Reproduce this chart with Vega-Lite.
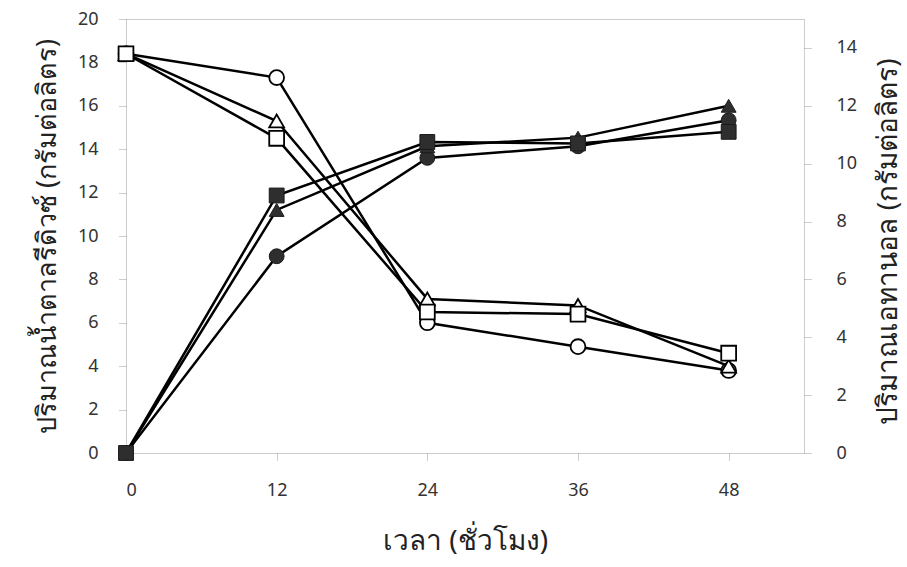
{
  "$schema": "https://vega.github.io/schema/vega-lite/v6.json",
  "width": 678,
  "height": 434,
  "autosize": {"type": "none"},
  "padding": {"left": 126, "top": 19, "right": 103, "bottom": 114},
  "background": "white",
  "config": {
    "view": {"stroke": "#9a9a9a", "strokeDash": [1, 1], "strokeWidth": 1},
    "axis": {
      "domain": false, "grid": false, "labelFont": "Noto Sans", "labelFontSize": 18,
      "labelColor": "#333333", "tickColor": "#9a9a9a", "tickDash": [1, 1], "tickSize": 8,
      "titleFont": "Noto Sans", "titleFontSize": 27, "titleColor": "#222222", "titleFontWeight": "normal"
    }
  },
  "data": {
    "values": [
      {"t": 0, "trt": "A", "sugar": 18.4, "ethanol": 0},
      {"t": 12, "trt": "A", "sugar": 17.3, "ethanol": 6.8},
      {"t": 24, "trt": "A", "sugar": 6.0, "ethanol": 10.2},
      {"t": 36, "trt": "A", "sugar": 4.9, "ethanol": 10.6},
      {"t": 48, "trt": "A", "sugar": 3.8, "ethanol": 11.5},
      {"t": 0, "trt": "B", "sugar": 18.4, "ethanol": 0},
      {"t": 12, "trt": "B", "sugar": 15.3, "ethanol": 8.4},
      {"t": 24, "trt": "B", "sugar": 7.1, "ethanol": 10.6},
      {"t": 36, "trt": "B", "sugar": 6.8, "ethanol": 10.9},
      {"t": 48, "trt": "B", "sugar": 4.0, "ethanol": 12.0},
      {"t": 0, "trt": "C", "sugar": 18.4, "ethanol": 0},
      {"t": 12, "trt": "C", "sugar": 14.5, "ethanol": 8.9},
      {"t": 24, "trt": "C", "sugar": 6.5, "ethanol": 10.75},
      {"t": 36, "trt": "C", "sugar": 6.4, "ethanol": 10.7},
      {"t": 48, "trt": "C", "sugar": 4.6, "ethanol": 11.1}
    ]
  },
  "encoding": {
    "x": {
      "field": "t", "type": "quantitative",
      "scale": {"domain": [0, 54], "nice": false, "zero": true},
      "axis": {"values": [0, 12, 24, 36, 48], "labelPadding": 20, "title": "เวลา (ชั่วโมง)", "titleFontSize": 28, "titlePadding": 28}
    }
  },
  "layer": [
    {
      "layer": [
        {
          "mark": {"type": "line", "color": "black", "strokeWidth": 2.5},
          "encoding": {"detail": {"field": "trt"}}
        },
        {
          "mark": {"type": "point", "filled": true, "fill": "white", "stroke": "black", "strokeWidth": 1.8, "opacity": 1, "size": 220},
          "encoding": {
            "shape": {"field": "trt", "type": "nominal", "scale": {"domain": ["A", "B", "C"], "range": ["circle", "triangle-up", "square"]}, "legend": null}
          }
        }
      ],
      "encoding": {
        "y": {
          "field": "sugar", "type": "quantitative",
          "scale": {"domain": [0, 20], "nice": false},
          "axis": {"orient": "left", "values": [0, 2, 4, 6, 8, 10, 12, 14, 16, 18, 20], "labelPadding": 20, "title": "ปริมาณน้ำตาลรีดิวซ์ (กรัมต่อลิตร)", "titlePadding": 16}
        }
      }
    },
    {
      "layer": [
        {
          "mark": {"type": "line", "color": "black", "strokeWidth": 2.5},
          "encoding": {"detail": {"field": "trt"}}
        },
        {
          "mark": {"type": "point", "filled": true, "fill": "#2e2e2e", "stroke": "#1a1a1a", "strokeWidth": 1, "opacity": 1, "size": 220},
          "encoding": {
            "shape": {"field": "trt", "type": "nominal", "scale": {"domain": ["A", "B", "C"], "range": ["circle", "triangle-up", "square"]}, "legend": null}
          }
        }
      ],
      "encoding": {
        "y": {
          "field": "ethanol", "type": "quantitative",
          "scale": {"domain": [0, 15], "nice": false},
          "axis": {"orient": "right", "values": [0, 2, 4, 6, 8, 10, 12, 14], "labelPadding": 24, "title": "ปริมาณเอทานอล (กรัมต่อลิตร)", "titleFontSize": 28, "titleAngle": 270, "titleX": 84, "titleY": 222, "titleAlign": "center", "titleBaseline": "middle"}
        }
      }
    }
  ],
  "resolve": {"scale": {"y": "independent", "shape": "shared"}}
}
